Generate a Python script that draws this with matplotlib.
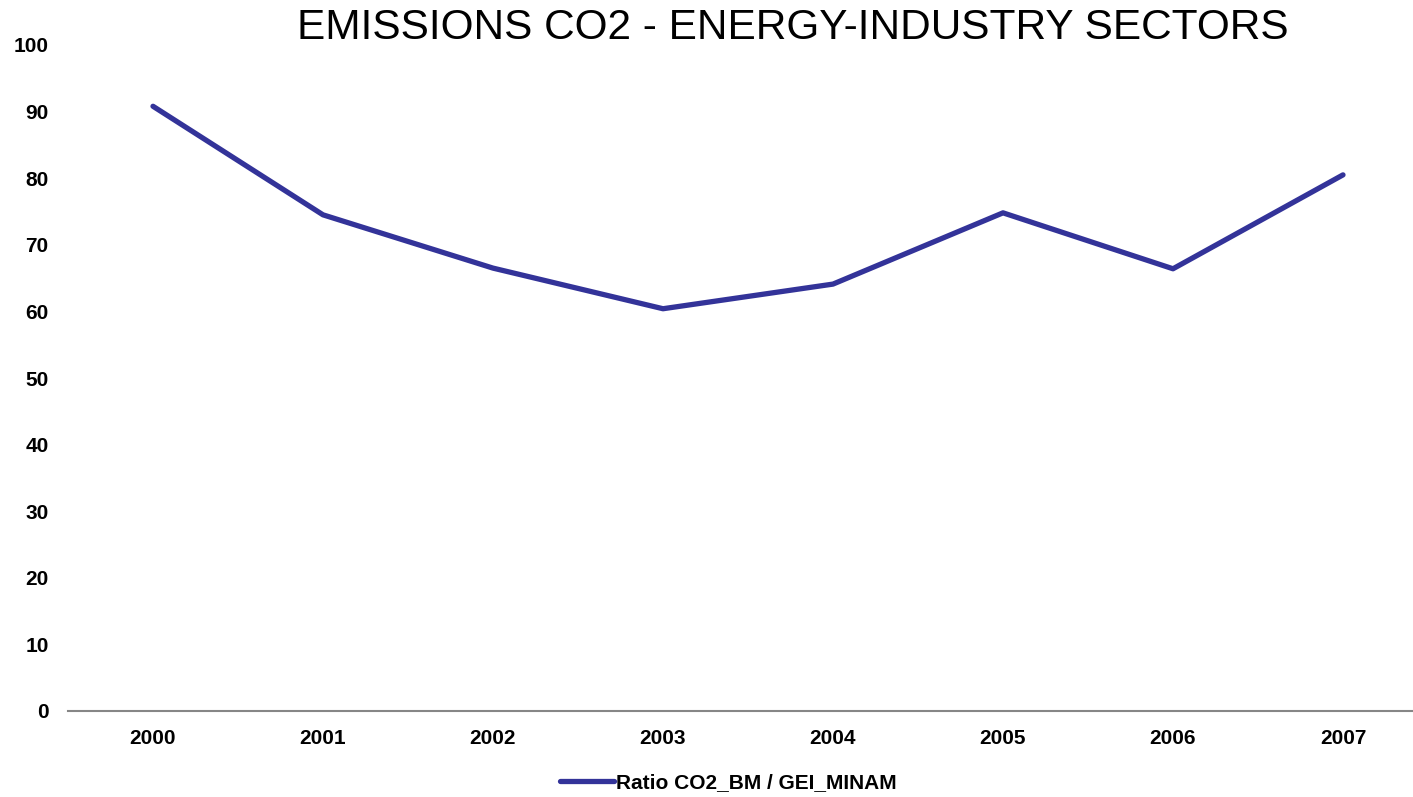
import matplotlib
matplotlib.use("Agg")
import matplotlib.pyplot as plt

years = ["2000", "2001", "2002", "2003", "2004", "2005", "2006", "2007"]
ratio = [90.8, 74.5, 66.5, 60.4, 64.1, 74.8, 66.4, 80.5]
yticks = [0, 10, 20, 30, 40, 50, 60, 70, 80, 90, 100]

plt.rcParams["font.family"] = ["Liberation Sans", "DejaVu Sans"]

W, H = 1413, 797
fig = plt.figure(figsize=(W / 100, H / 100), dpi=100)
left, right, bottom, top = 68, 1428, 711, 45
ax = fig.add_axes([left / W, 1 - bottom / H, (right - left) / W, (bottom - top) / H])

x = list(range(len(years)))
line, = ax.plot(x, ratio, color="#333399", linewidth=3.8, solid_capstyle="round",
                solid_joinstyle="round", label="Ratio CO2_BM / GEI_MINAM", clip_on=False)

ax.set_xlim(-0.5, len(years) - 0.5)
ax.set_ylim(0, 100)
ax.set_xticks(x)
ax.set_xticklabels(years, fontsize=15, fontweight="bold")
ax.set_yticks(yticks)
ax.set_yticklabels([str(v) for v in yticks], fontsize=15, fontweight="bold")
ax.tick_params(axis="both", length=0)
ax.tick_params(axis="x", pad=13)
ax.tick_params(axis="y", pad=14)

for s in ("top", "right", "left"):
    ax.spines[s].set_visible(False)
ax.spines["bottom"].set_color("#868686")
ax.spines["bottom"].set_linewidth(1.5)

fig.text(793 / W, 1 - 28 / H, "EMISSIONS CO2 - ENERGY-INDUSTRY SECTORS",
         ha="center", va="center", fontsize=30.5)

leg = fig.legend(handles=[line], loc="center", bbox_to_anchor=(728 / W, 1 - 783 / H),
                 frameon=False, prop={"size": 15, "weight": "bold"},
                 handlelength=2.6, handletextpad=0.1)

fig.savefig("out.png", dpi=100)
